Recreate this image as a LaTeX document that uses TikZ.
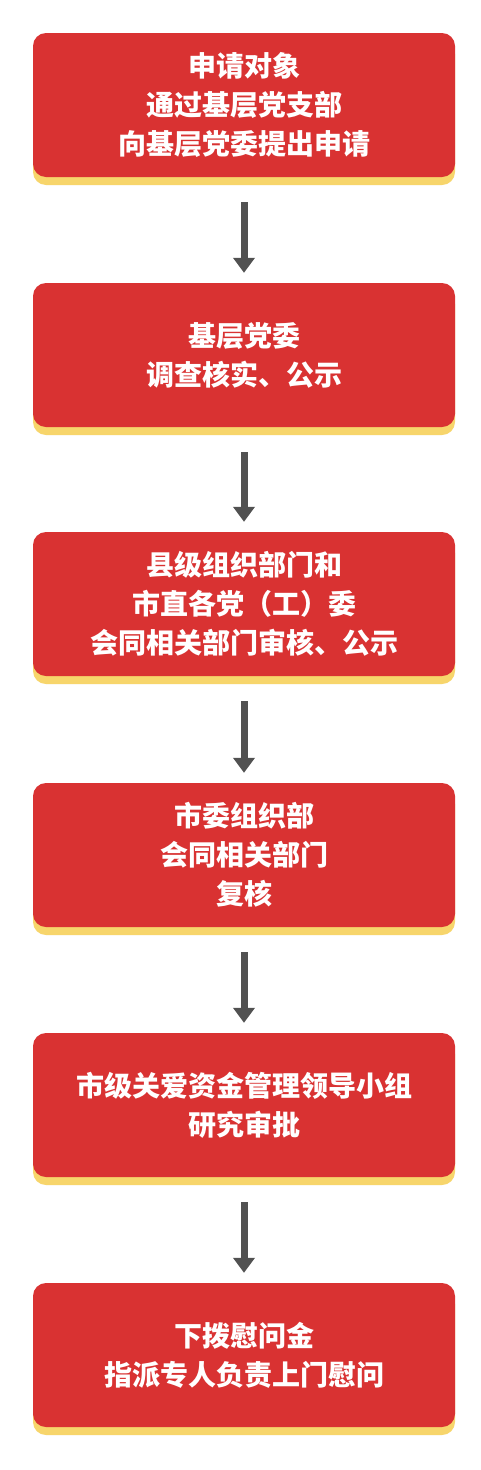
\documentclass[tikz,border=0pt]{standalone}
\usepackage{fontspec}
\newfontfamily\cjk{Noto Sans CJK SC}
\usetikzlibrary{arrows.meta,shadows}
\definecolor{boxred}{HTML}{D93232}
\definecolor{boxyellow}{HTML}{F7D56B}
\definecolor{arrgray}{HTML}{515151}
\begin{document}
\begin{tikzpicture}[x=1pt,y=-1pt,
  stepbox/.style={rectangle, rounded corners=13pt, fill=boxred,
    minimum width=422pt, minimum height=144pt, inner sep=0pt,
    text=white, align=center,
    font=\cjk\bfseries\fontsize{28pt}{39pt}\selectfont,
    drop shadow={shadow xshift=0pt, shadow yshift=-8pt, fill=boxyellow, opacity=1}},
  arr/.style={draw=arrgray, line width=7pt, -{Triangle[width=21pt,length=15pt]}}]
\fill[white] (0,0) rectangle (480,1470);
\path[use as bounding box] (0,0) rectangle (480,1470);
\node[stepbox] (b1) at (244,105) {申请对象\\通过基层党支部\\向基层党委提出申请};
\node[stepbox] (b2) at (244,355) {基层党委\\调查核实、公示};
\node[stepbox] (b3) at (244,604) {县级组织部门和\\市直各党（工）委\\会同相关部门审核、公示};
\node[stepbox] (b4) at (244,855) {市委组织部\\会同相关部门\\复核};
\node[stepbox] (b5) at (244,1105) {市级关爱资金管理领导小组\\研究审批};
\node[stepbox] (b6) at (244,1355) {下拨慰问金\\指派专人负责上门慰问};
\foreach \a/\b in {b1/b2,b2/b3,b3/b4,b4/b5,b5/b6}
  \draw[arr] ([yshift=-25pt]\a.south) -- ([yshift=10pt]\b.north);
\end{tikzpicture}
\end{document}
